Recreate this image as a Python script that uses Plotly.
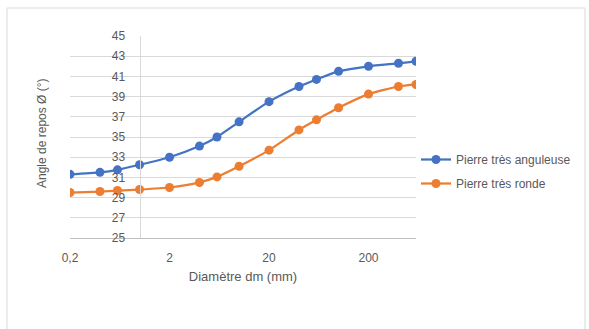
import math
import plotly.graph_objects as go

# ---- data ----
diametre = [0.2, 0.4, 0.6, 1, 2, 4, 6, 10, 20, 40, 60, 100, 200, 400, 600]
angulaire = [31.3, 31.5, 31.75, 32.25, 33.0, 34.1, 35.0, 36.5, 38.5, 40.0, 40.7, 41.5, 42.0, 42.3, 42.5]
ronde = [29.5, 29.6, 29.7, 29.8, 30.0, 30.5, 31.05, 32.1, 33.7, 35.7, 36.7, 37.9, 39.25, 40.0, 40.2]
x_tickvals = [0.2, 2, 20, 200]
x_ticktext = ["0,2", "2", "20", "200"]
y_tickvals = list(range(25, 46, 2))
series_names = ["Pierre très anguleuse", "Pierre très ronde"]

W, H = 589, 329
L, R, T, B = 70, 173, 36, 91
pw, ph = W - L - R, H - T - B

xmin, xmax = 0.2, 600
lx0, lx1 = math.log10(xmin), math.log10(xmax)
ycross = (math.log10(1) - lx0) / (lx1 - lx0)

FONT = "Liberation Sans"
GREY = "#595959"

fig = go.Figure()
fig.add_trace(go.Scatter(
    x=diametre, y=angulaire, name=series_names[0], mode="lines+markers",
    line=dict(color="#4472C4", width=2.25, shape="spline", smoothing=0.6),
    marker=dict(color="#4472C4", size=9), legendgroup="a"))
fig.add_trace(go.Scatter(
    x=diametre, y=ronde, name=series_names[1], mode="lines+markers",
    line=dict(color="#ED7D31", width=2.25, shape="spline", smoothing=0.6),
    marker=dict(color="#ED7D31", size=9), legendgroup="b"))

def px_x(p):
    return (p - L) / pw

def px_y(p):
    return (H - B - p) / ph

fig.update_layout(
    width=W, height=H,
    margin=dict(l=L, r=R, t=T, b=B, autoexpand=False),
    paper_bgcolor="white", plot_bgcolor="white",
    font=dict(family=FONT, size=12, color=GREY),
    xaxis=dict(
        type="log", range=[lx0, lx1], tickvals=x_tickvals, ticktext=x_ticktext,
        showgrid=False, zeroline=False, showline=True, linecolor="#bfbfbf", linewidth=1,
        ticks="", ticklabelstandoff=9, tickfont=dict(size=12, color=GREY),
        title=dict(text="Diamètre dm (mm)", font=dict(size=13, color=GREY), standoff=7),
    ),
    yaxis=dict(
        range=[25, 45], tickvals=y_tickvals, anchor="free", position=ycross,
        showgrid=True, gridcolor="#d9d9d9", gridwidth=1, zeroline=False,
        showline=True, linecolor="#d9d9d9", linewidth=1, ticks="",
        ticklabelstandoff=12, tickfont=dict(size=12, color=GREY),
    ),
    legend=dict(
        x=px_x(416), y=px_y(145), xanchor="left", yanchor="top",
        font=dict(size=12, color=GREY), tracegroupgap=5,
        traceorder="grouped", bgcolor="rgba(0,0,0,0)",
    ),
    annotations=[dict(
        text="Angle de repos Ø (°)", textangle=-90, showarrow=False,
        xref="paper", yref="paper", x=px_x(42), y=px_y(133),
        xanchor="center", yanchor="middle", font=dict(size=12, color=GREY),
    )],
    shapes=[dict(
        type="rect", xref="paper", yref="paper",
        x0=px_x(7), x1=px_x(585), y0=px_y(340), y1=px_y(8),
        line=dict(color="#d9d9d9", width=1), layer="below",
    )],
)

fig.write_html("out.html")
